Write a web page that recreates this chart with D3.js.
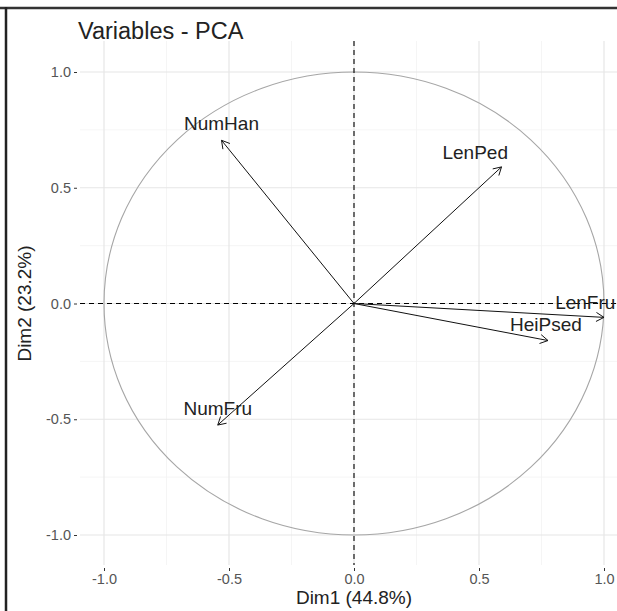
<!DOCTYPE html>
<html>
<head>
<meta charset="utf-8">
<script src="https://cdn.jsdelivr.net/npm/d3@7"></script>
<style>
body { margin: 0; background: #fff; }
svg { display: block; font-family: "Liberation Sans", Arial, sans-serif; }
</style>
</head>
<body>
<div id="chartDiv"></div>
<script>
// variable coordinates on Dim1 / Dim2
var varNames = ["NumHan", "LenPed", "LenFru", "HeiPsed", "NumFru"];
var dim1 = [-0.53, 0.59, 1.0, 0.776, -0.545];
var dim2 = [0.705, 0.59, -0.06, -0.16, -0.525];
// where the labels sit (data units)
var labDim1 = [-0.53, 0.485, 0.925, 0.768, -0.545];
var labDim2 = [0.78, 0.655, 0.005, -0.09, -0.455];

var majorTicks = [-1.0, -0.5, 0.0, 0.5, 1.0];
var minorTicks = [-0.75, -0.25, 0.25, 0.75];

var W = 617, H = 611;
var svg = d3.select("#chartDiv").append("svg").attr("width", W).attr("height", H);

var x = d3.scaleLinear().domain([-1, 1]).range([104, 604]);
var y = d3.scaleLinear().domain([-1, 1]).range([535, 72]);
var panel = { left: 80, right: 630, top: 41, bottom: 565 };

var fmt = function(d) { return d3.format(".1f")(d).replace("\u2212", "-"); };

// grid
var g = svg.append("g");
g.selectAll(".minx").data(minorTicks).join("line")
	.attr("x1", function(d) { return x(d); }).attr("x2", function(d) { return x(d); })
	.attr("y1", panel.top).attr("y2", panel.bottom)
	.attr("stroke", "#f2f2f2").attr("stroke-width", 0.8);
g.selectAll(".miny").data(minorTicks).join("line")
	.attr("y1", function(d) { return y(d); }).attr("y2", function(d) { return y(d); })
	.attr("x1", panel.left).attr("x2", panel.right)
	.attr("stroke", "#f2f2f2").attr("stroke-width", 0.8);
g.selectAll(".majx").data(majorTicks).join("line")
	.attr("x1", function(d) { return x(d); }).attr("x2", function(d) { return x(d); })
	.attr("y1", panel.top).attr("y2", panel.bottom)
	.attr("stroke", "#e6e6e6").attr("stroke-width", 1.2);
g.selectAll(".majy").data(majorTicks).join("line")
	.attr("y1", function(d) { return y(d); }).attr("y2", function(d) { return y(d); })
	.attr("x1", panel.left).attr("x2", panel.right)
	.attr("stroke", "#e6e6e6").attr("stroke-width", 1.2);

// axes
var xAxis = d3.axisBottom(x).tickValues(majorTicks).tickFormat(fmt).tickSize(3).tickPadding(3);
var yAxis = d3.axisLeft(y).tickValues(majorTicks).tickFormat(fmt).tickSize(3).tickPadding(3);
var xa = svg.append("g").attr("transform", "translate(0," + (panel.bottom + 3) + ")").call(xAxis);
var ya = svg.append("g").attr("transform", "translate(" + (panel.left - 3) + ",0)").call(yAxis);
[xa, ya].forEach(function(a) {
	a.select(".domain").remove();
	a.selectAll(".tick line").attr("stroke", "#333");
	a.selectAll("text").attr("fill", "#555").style("font-size", "14.5px");
});

// correlation circle
svg.append("ellipse")
	.attr("cx", x(0)).attr("cy", y(0))
	.attr("rx", x(1) - x(0)).attr("ry", y(0) - y(1))
	.attr("fill", "none").attr("stroke", "#a6a6a6").attr("stroke-width", 1.1);

// dashed reference lines
svg.append("line").attr("x1", panel.left).attr("x2", panel.right)
	.attr("y1", y(0)).attr("y2", y(0))
	.attr("stroke", "#000").attr("stroke-width", 1.1).attr("stroke-dasharray", "5,4");
svg.append("line").attr("y1", panel.top).attr("y2", panel.bottom)
	.attr("x1", x(0)).attr("x2", x(0))
	.attr("stroke", "#000").attr("stroke-width", 1.1).attr("stroke-dasharray", "5,4");

// arrows
var vars = varNames.map(function(n, i) {
	return { name: n, d1: dim1[i], d2: dim2[i], l1: labDim1[i], l2: labDim2[i] };
});
var ag = svg.append("g");
vars.forEach(function(v) {
	var x0 = x(0), y0 = y(0), x1 = x(v.d1), y1 = y(v.d2);
	var ang = Math.atan2(y1 - y0, x1 - x0);
	var len = 9, spread = Math.PI / 6;
	ag.append("line").attr("x1", x0).attr("y1", y0).attr("x2", x1).attr("y2", y1)
		.attr("stroke", "#111").attr("stroke-width", 1);
	var p = "M" + (x1 - len * Math.cos(ang - spread)) + "," + (y1 - len * Math.sin(ang - spread)) +
		"L" + x1 + "," + y1 +
		"L" + (x1 - len * Math.cos(ang + spread)) + "," + (y1 - len * Math.sin(ang + spread));
	ag.append("path").attr("d", p).attr("fill", "none").attr("stroke", "#111").attr("stroke-width", 1);
});
ag.selectAll("text.lab").data(vars).join("text")
	.attr("class", "lab")
	.attr("x", function(d) { return x(d.l1); })
	.attr("y", function(d) { return y(d.l2); })
	.attr("dy", "0.35em")
	.attr("text-anchor", "middle")
	.attr("fill", "#222")
	.style("font-size", "19px")
	.text(function(d) { return d.name; });

// titles
svg.append("text").attr("x", 78).attr("y", 39).attr("fill", "#222")
	.style("font-size", "23.5px").text("Variables - PCA");
svg.append("text").attr("x", x(0)).attr("y", 604).attr("text-anchor", "middle")
	.attr("fill", "#222").style("font-size", "19px").text("Dim1 (44.8%)");
svg.append("text").attr("transform", "translate(24," + y(0) + ") rotate(-90)")
	.attr("text-anchor", "middle").attr("dy", "0.35em").attr("fill", "#222").style("font-size", "19px")
	.text("Dim2 (23.2%)");

// frame of the screenshot
svg.append("line").attr("x1", 0).attr("x2", W).attr("y1", 8).attr("y2", 8)
	.attr("stroke", "#333").attr("stroke-width", 2.5);
svg.append("line").attr("x1", 6).attr("x2", 6).attr("y1", 7).attr("y2", H)
	.attr("stroke", "#222").attr("stroke-width", 2.5);
</script>
</body>
</html>
